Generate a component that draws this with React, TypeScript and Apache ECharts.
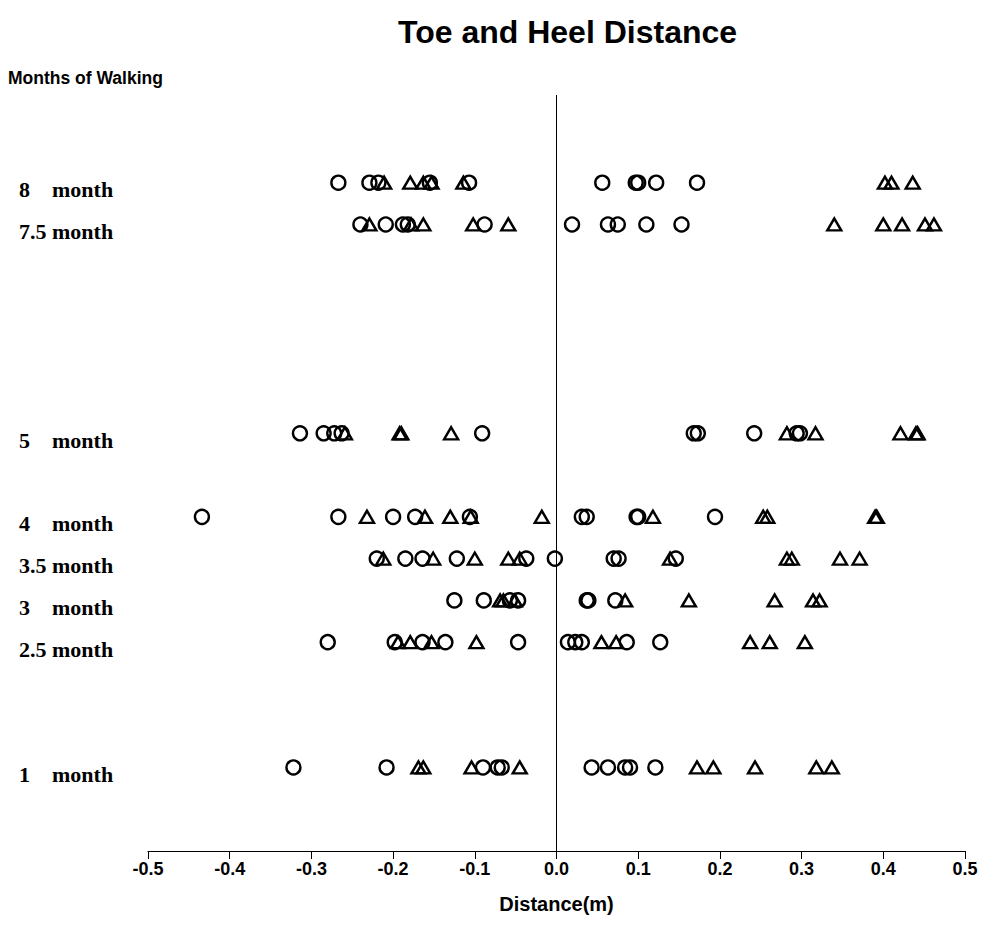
import React, { useEffect, useRef } from "react";
import * as echarts from "echarts";

// Month rows (y values) and their label prefixes
const months = [8, 7.5, 5, 4, 3.5, 3, 2.5, 1];
const monthLabels = ["8", "7.5", "5", "4", "3.5", "3", "2.5", "1"];

// Circle marks (distance in m) per month
const circ8 = [-0.267, -0.229, -0.218, -0.155, -0.107, 0.056, 0.097, 0.1, 0.122, 0.172];
const circ75 = [-0.24, -0.209, -0.188, -0.182, -0.088, 0.019, 0.063, 0.075, 0.11, 0.153];
const circ5 = [-0.314, -0.285, -0.272, -0.263, -0.091, 0.168, 0.173, 0.242, 0.294, 0.298];
const circ4 = [-0.434, -0.267, -0.2, -0.173, -0.106, 0.031, 0.037, 0.098, 0.1, 0.194];
const circ35 = [-0.22, -0.185, -0.164, -0.122, -0.037, -0.002, 0.07, 0.076, 0.146];
const circ3 = [-0.125, -0.089, -0.057, -0.047, 0.037, 0.039, 0.072];
const circ25 = [-0.28, -0.198, -0.164, -0.136, -0.047, 0.014, 0.023, 0.031, 0.086, 0.127];
const circ1 = [-0.322, -0.208, -0.09, -0.072, -0.067, 0.043, 0.063, 0.084, 0.09, 0.121];

// Triangle marks (distance in m) per month
const tri8 = [-0.211, -0.179, -0.163, -0.153, -0.114, 0.402, 0.41, 0.436];
const tri75 = [-0.229, -0.178, -0.163, -0.102, -0.059, 0.34, 0.4, 0.423, 0.451, 0.462];
const tri5 = [-0.259, -0.192, -0.19, -0.129, 0.282, 0.317, 0.421, 0.44, 0.442];
const tri4 = [-0.232, -0.161, -0.13, -0.105, -0.018, 0.118, 0.253, 0.258, 0.39, 0.392];
const tri35 = [-0.212, -0.151, -0.1, -0.059, -0.045, 0.139, 0.282, 0.288, 0.347, 0.371];
const tri3 = [-0.069, -0.065, -0.051, 0.084, 0.162, 0.267, 0.314, 0.322];
const tri25 = [-0.194, -0.179, -0.153, -0.098, 0.055, 0.073, 0.237, 0.261, 0.304];
const tri1 = [-0.169, -0.163, -0.104, -0.045, 0.172, 0.192, 0.243, 0.318, 0.337];

const circleRows = [circ8, circ75, circ5, circ4, circ35, circ3, circ25, circ1];
const triangleRows = [tri8, tri75, tri5, tri4, tri35, tri3, tri25, tri1];

const toPoints = (rows: number[][]) =>
  rows.flatMap((row, i) => row.map((x) => [x, months[i]]));

export default function App() {
  const ref = useRef<HTMLDivElement>(null);

  useEffect(() => {
    if (!ref.current) return;
    const chart = echarts.init(ref.current, null, { renderer: "svg" });
    const markStyle = {
      color: "rgba(0,0,0,0)",
      borderColor: "#000",
      borderWidth: 2.4,
      opacity: 1,
    };
    chart.setOption({
      animation: false,
      backgroundColor: "#fff",
      title: [
        {
          text: "Toe and Heel Distance",
          left: 398,
          top: 16,
          padding: 0,
          textStyle: {
            fontFamily: "Liberation Sans",
            fontWeight: "bold",
            fontSize: 32,
            color: "#000",
          },
        },
        {
          text: "Months of Walking",
          left: 8,
          top: 69,
          padding: 0,
          textStyle: {
            fontFamily: "Liberation Sans",
            fontWeight: "bold",
            fontSize: 17.5,
            color: "#000",
          },
        },
      ],
      grid: { left: 148, right: 18, top: 95, bottom: 97 },
      xAxis: {
        type: "value",
        min: -0.5,
        max: 0.5,
        interval: 0.1,
        name: "Distance(m)",
        nameLocation: "middle",
        nameGap: 43,
        nameTextStyle: {
          fontFamily: "Liberation Sans",
          fontWeight: "bold",
          fontSize: 20,
          color: "#000",
        },
        axisLine: { onZero: false, lineStyle: { color: "#000", width: 1 } },
        axisTick: { show: true, length: 8, lineStyle: { color: "#000" } },
        splitLine: { show: false },
        axisLabel: {
          margin: 9,
          fontFamily: "Liberation Sans",
          fontWeight: "bold",
          fontSize: 18,
          color: "#000",
          formatter: (v: number) => (Math.abs(v) < 1e-9 ? "0.0" : v.toFixed(1)),
        },
      },
      yAxis: {
        type: "value",
        min: 0,
        max: 9.05,
        interval: 0.5,
        axisLine: { show: false },
        axisTick: { show: false },
        splitLine: { show: false },
        axisLabel: {
          align: "left",
          margin: 129,
          padding: [14, 0, 0, 0],
          showMaxLabel: false,
          formatter: (v: number) => {
            const idx = months.findIndex((m) => Math.abs(m - v) < 1e-6);
            if (idx < 0) return "";
            return `{n|${monthLabels[idx]}}{m|month}`;
          },
          rich: {
            n: {
              width: 33,
              align: "left",
              fontFamily: "Liberation Serif",
              fontWeight: "bold",
              fontSize: 22,
              color: "#000",
            },
            m: {
              fontFamily: "Liberation Serif",
              fontWeight: "bold",
              fontSize: 22,
              color: "#000",
            },
          },
        },
      },
      series: [
        {
          name: "Toe",
          type: "scatter",
          symbol: "circle",
          symbolSize: 14,
          itemStyle: markStyle,
          emphasis: { disabled: true },
          data: toPoints(circleRows),
          markLine: {
            silent: true,
            symbol: "none",
            label: { show: false },
            lineStyle: { color: "#000", width: 1, type: "solid", opacity: 1 },
            data: [{ xAxis: 0 }],
          },
        },
        {
          name: "Heel",
          type: "scatter",
          symbol: "triangle",
          symbolSize: [14, 12],
          itemStyle: markStyle,
          emphasis: { disabled: true },
          data: toPoints(triangleRows),
        },
      ],
    });
    return () => chart.dispose();
  }, []);

  return (
    <div
      ref={ref}
      style={{ position: "fixed", left: 0, top: 0, width: 983, height: 948, background: "#fff" }}
    />
  );
}
